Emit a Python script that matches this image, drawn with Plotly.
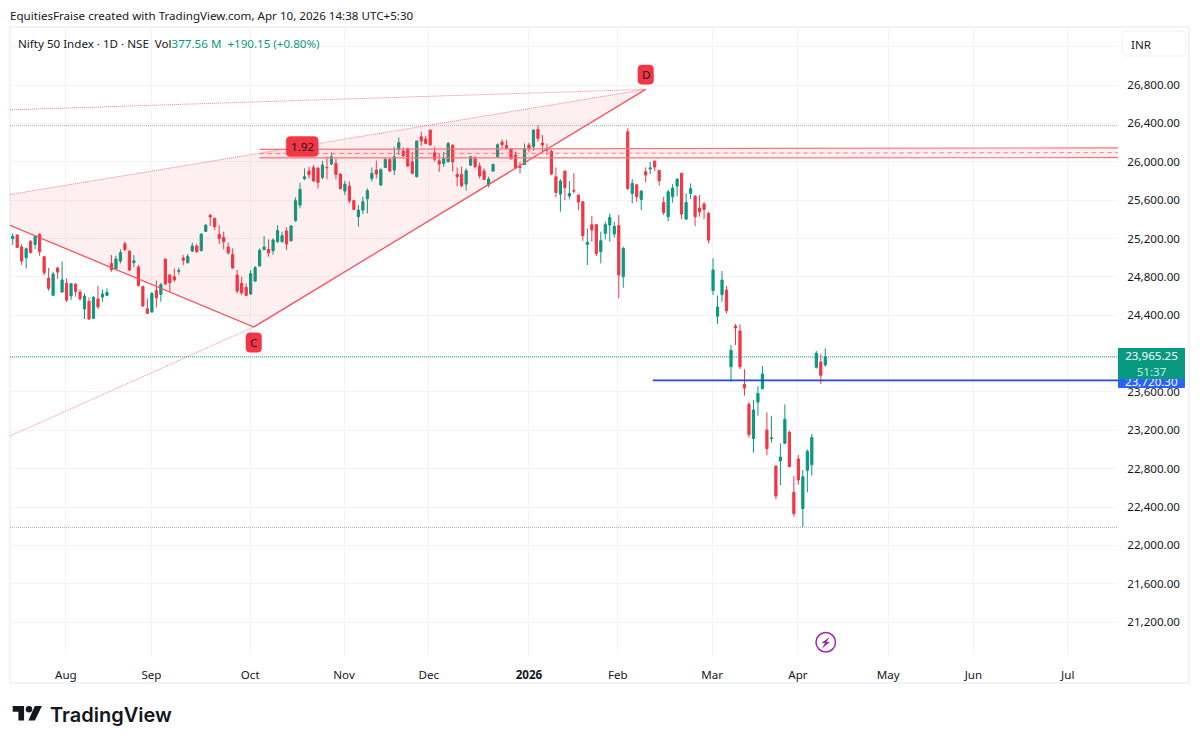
import plotly.graph_objects as go

opens = [25198,25236,25111,24999,25170,25138,25243,25010,24787,24607,24892,24641,24732,24600,24725,24641,24464,24544,24367,24568,24589,24607,
24940,24888,24965,25145,25069,24947,24902,24700,24468,24433,24659,24617,24986,24819,24801,24857,24996,24947,25069,25121,25072,25274,25441,25410,25243,25211,25111,25034,24819,24732,24690,24621,24756,24913,25083,25086,25072,25166,
25167,25278,25177,25385,25548,25823,25903,25938,25931,25837,25941,25976,25983,25872,25694,25746,25594,25427,25496,25614,25826,25913,25757,25941,26025,25913,26129,26111,26136,26000,25844,26261,26237,26330,26094,26011,25983,26000,26171,25868,25868,25767,25965,26035,25955,25903,25757,25903,26052,26205,26171,26132,26070,25948,25972,26174,26157,26337,26195,26139,
26108,25844,25663,25903,25642,25701,25653,25583,25138,25343,25343,25062,25253,25340,25246,25336,24801,26313,25670,25760,25607,25896,25924,26004,25910,25576,25427,25635,25746,25879,25402,25670,25642,25517,25559,25461,
24656,24388,24614,24663,23863,24287,24235,23679,23471,23113,23495,23634,23203,23113,22828,22880,23064,23179,22553,22901,22383,22782,22841,23856,23912,23881]
highs = [25253,25243,25142,25107,25184,25236,25253,25017,24892,24853,24906,24961,24784,24732,24732,24669,24627,24586,24600,24704,24669,24680,
25027,25020,25086,25163,25072,25027,24923,24707,24575,24641,24760,24739,24986,24829,24888,24895,25027,25038,25156,25142,25253,25350,25455,25420,25337,25271,25156,25097,24871,24801,24732,24871,24913,25097,25225,25191,25201,25340,
25271,25316,25340,25628,25781,25931,25948,25965,25948,26011,26052,26098,26035,25879,25802,25795,25600,25548,25635,25722,25941,26011,25931,26035,26035,26157,26254,26150,26146,26104,26219,26313,26268,26330,26157,26087,26104,26205,26184,25941,25948,25931,26059,26059,25990,25931,25844,25983,26191,26233,26226,26139,26104,26000,26191,26198,26337,26379,26278,26191,
26129,25941,25819,25903,25799,25879,25653,25590,25305,25434,25350,25270,25375,25461,25375,25444,25114,26348,25819,25767,25705,25941,26000,26018,25913,25635,25705,25767,25826,25886,25670,25774,25649,25653,25580,25479,
24993,24604,24861,24705,24089,24308,24305,23836,23495,23516,23662,23870,23387,23352,22828,23064,23471,23196,22723,22942,22786,23001,23161,24027,23995,24055]
lows = [25132,25100,24923,24888,25041,25090,25020,24815,24655,24607,24780,24634,24537,24558,24593,24551,24360,24349,24360,24464,24541,24600,
24853,24881,24940,25072,24860,24899,24697,24488,24412,24426,24481,24541,24714,24641,24749,24822,24923,24940,25058,25052,25069,25271,25330,25288,25142,25086,25031,24885,24627,24610,24600,24614,24749,24906,25079,25010,25031,25156,
25156,25080,25167,25375,25514,25809,25826,25792,25722,25816,25816,25965,25816,25712,25653,25566,25496,25322,25454,25461,25792,25826,25746,25938,25892,25861,26070,26035,25948,25872,25837,26164,26181,26171,26000,25896,25948,25993,25896,25746,25733,25698,25955,25931,25826,25809,25733,25896,26045,26139,26129,26018,25920,25879,25965,26104,26115,26209,26104,26070,
25861,25628,25479,25600,25607,25670,25496,25176,24923,25166,25017,24940,25190,25166,25208,24575,24686,25705,25566,25583,25496,25785,25872,25903,25753,25444,25381,25573,25642,25399,25392,25611,25329,25427,25402,25149,
24611,24308,24541,24420,23707,24089,23839,23561,23123,22967,23352,23627,22939,23071,22480,22629,23057,22814,22299,22633,22188,22553,22727,23843,23683,23863]
closes = [25222,25107,24965,25093,25055,25222,25062,24843,24680,24829,24850,24767,24558,24728,24648,24572,24600,24360,24586,24488,24621,24638,
24874,24986,25052,25083,24871,24968,24711,24495,24419,24627,24582,24718,24725,24739,24767,24864,24972,25013,25121,25062,25246,25337,25423,25323,25198,25166,25052,24892,24652,24634,24607,24833,24895,25076,25111,25048,25184,25284,
25229,25142,25330,25594,25712,25844,25865,25799,25785,25965,25938,26052,25868,25719,25767,25594,25503,25496,25583,25698,25879,25872,25917,26025,25903,26052,26198,26063,25955,25879,26216,26216,26191,26174,26025,25976,26035,26191,26000,25844,25750,25906,26052,25948,25854,25816,25819,25972,26177,26177,26136,26035,25938,25941,26136,26139,26330,26244,26174,26122,
25872,25680,25799,25729,25670,25694,25580,25229,25159,25288,25044,25176,25343,25420,25326,24818,25096,25722,25774,25635,25694,25861,25934,25945,25802,25472,25687,25726,25819,25454,25576,25719,25427,25479,25503,25183,
24871,24486,24767,24447,24034,24267,23863,23641,23154,23412,23585,23787,23008,23120,22515,22921,23314,22821,22330,22682,22716,22980,23126,24002,23773,23965.25]

month_labels = ["Aug", "Sep", "Oct", "Nov", "Dec", "<b>2026</b>", "Feb", "Mar", "Apr", "May", "Jun", "Jul"]
month_bars = [11.85, 30.9, 52.9, 73.8, 92.7, 115, 134.8, 155.8, 174.9, 195, 214, 235]
price_ticks = [21200, 21600, 22000, 22400, 22800, 23200, 23600, 24000, 24400, 24800, 25200, 25600, 26000, 26400, 26800]
price_grid_extra = [27200]

bar_left, bar_right = -0.6, 246.2
price_low, price_high = 20857, 27405

# pattern drawing anchors (bar index, price)
pt_left_solid = 25337
pt_c = (53.7, 24277)
pt_d = (141, 26755)
pt_left_top = 26541
pt_left_upper = 25658
pt_left_lower = 23140
level_upper_dotted = 26376
level_low_dotted = 22188
level_last = 23965.25
level_blue = 23720.30
blue_start = 142.6
band_start = 55
band_top = (26130, 26145)
band_mid = (26085, 26095)
band_bottom = (26040, 26042)

GREEN = "#089981"
RED = "#F23645"
TEXT = "#131722"
FONT = "Noto Sans"

# page layout helpers
PL, PR, PT, PB = 10, 1118, 27, 655
def fx(x): return (x - PL) / (PR - PL)
def fy(y): return (PB - y) / (PB - PT)

def rr_path(x0, y0, x1, y1, r):
    X0, X1, Y0, Y1 = fx(x0), fx(x1), fy(y0), fy(y1)
    rx, ry = r / (PR - PL), r / (PB - PT)
    return (f"M{X0+rx},{Y0} L{X1-rx},{Y0} Q{X1},{Y0} {X1},{Y0-ry} L{X1},{Y1+ry} Q{X1},{Y1} {X1-rx},{Y1} "
            f"L{X0+rx},{Y1} Q{X0},{Y1} {X0},{Y1+ry} L{X0},{Y0-ry} Q{X0},{Y0} {X0+rx},{Y0} Z")

def poly_path(points):
    return "M" + " L".join(f"{fx(x)},{fy(y)}" for x, y in points) + " Z"

def tag_shape(xv, yv, hw, hh, r=4):
    p = (f"M{-hw+r},{-hh} L{hw-r},{-hh} Q{hw},{-hh} {hw},{-hh+r} L{hw},{hh-r} Q{hw},{hh} {hw-r},{hh} "
         f"L{-hw+r},{hh} Q{-hw},{hh} {-hw},{hh-r} L{-hw},{-hh+r} Q{-hw},{-hh} {-hw+r},{-hh} Z")
    return dict(type="path", xref="x", yref="y", xsizemode="pixel", ysizemode="pixel",
                xanchor=xv, yanchor=yv, path=p, fillcolor=RED,
                line=dict(color="rgba(242,54,69,0.45)", width=1), layer="above")

fig = go.Figure()
DOT = "rgba(242,54,69,0.62)"
# triangle fill
fig.add_trace(go.Scatter(x=[bar_left, pt_d[0], pt_c[0], bar_left], y=[pt_left_upper, pt_d[1], pt_c[1], pt_left_solid],
                         fill="toself", fillcolor="rgba(242,54,69,0.08)", mode="none", hoverinfo="skip"))
# band fill
fig.add_trace(go.Scatter(x=[band_start, bar_right, bar_right, band_start],
                         y=[band_top[0], band_top[1], band_bottom[1], band_bottom[0]],
                         fill="toself", fillcolor="rgba(242,54,69,0.08)", mode="none", hoverinfo="skip"))
for yy, col in [(level_upper_dotted, "#A8ABB4"), (level_low_dotted, "#A8ABB4"), (level_last, GREEN)]:
    fig.add_trace(go.Scatter(x=[bar_left, bar_right], y=[yy, yy], mode="lines", hoverinfo="skip",
                             line=dict(color=col, width=1, dash="1px,1px")))
for xs, ys in [([bar_left, pt_d[0]], [pt_left_top, pt_d[1]]),
               ([bar_left, pt_d[0]], [pt_left_upper, pt_d[1]]),
               ([bar_left, pt_c[0]], [pt_left_lower, pt_c[1]])]:
    fig.add_trace(go.Scatter(x=xs, y=ys, mode="lines", hoverinfo="skip",
                             line=dict(color=DOT, width=1, dash="1px,1px")))

fig.add_trace(go.Candlestick(
    x=list(range(len(opens))), open=opens, high=highs, low=lows, close=closes,
    increasing=dict(line=dict(color=GREEN, width=1), fillcolor=GREEN),
    decreasing=dict(line=dict(color=RED, width=1), fillcolor=RED),
    whiskerwidth=0, hoverinfo="skip"))

fig.add_trace(go.Scatter(x=[bar_left, pt_c[0], pt_d[0]], y=[pt_left_solid, pt_c[1], pt_d[1]], mode="lines",
                         hoverinfo="skip", line=dict(color="#F7525F", width=1.3)))
for seg, w, d in [(band_top, 1.2, "solid"), (band_bottom, 1.2, "solid"), (band_mid, 1, "4px,4px")]:
    fig.add_trace(go.Scatter(x=[band_start, bar_right], y=list(seg), mode="lines", hoverinfo="skip",
                             line=dict(color="#F7747D", width=w, dash=d)))
fig.add_trace(go.Scatter(x=[blue_start, bar_right], y=[level_blue, level_blue], mode="lines", hoverinfo="skip",
                         line=dict(color="#1E4BD8", width=1.6)))

shapes = [
    dict(type="rect", xref="paper", yref="paper", x0=fx(10), x1=fx(1189), y0=fy(27), y1=fy(683),
         line=dict(color="#EEF0F3", width=1.5), layer="below"),
    dict(type="path", xref="paper", yref="paper", path=rr_path(1122, 31, 1186, 56, 5),
         line=dict(color="#EEF0F3", width=1), fillcolor="white"),
    dict(type="path", xref="paper", yref="paper", path=rr_path(1118, 375, 1185, 388, 1),
         line=dict(width=0), fillcolor="#2962FF"),
    tag_shape(pt_d[0], 26908, 7.8, 9.7),
    tag_shape(pt_c[0], 24115, 7.8, 9.7),
    tag_shape(64.5, 26159, 16, 10),
    # session icon
    dict(type="circle", xref="paper", yref="paper", x0=fx(816), x1=fx(835.5), y0=fy(632.5), y1=fy(652),
         line=dict(color="#9C27B0", width=1.5), fillcolor="white"),
    dict(type="path", xref="paper", yref="paper", fillcolor="#9C27B0", line=dict(width=0),
         path=poly_path([(829.5, 637), (821.5, 643), (825, 643), (822, 648.5), (830, 642), (826.5, 642)])),
    # TradingView mark
    dict(type="path", xref="paper", yref="paper", fillcolor=TEXT, line=dict(width=0),
         path=poly_path([(12.7, 706), (24.1, 706), (24.1, 720.6), (18.4, 720.6), (18.4, 711.7), (12.7, 711.7)])),
    dict(type="circle", xref="paper", yref="paper", fillcolor=TEXT, line=dict(width=0),
         x0=fx(25.7), x1=fx(32.2), y0=fy(706), y1=fy(712.5)),
    dict(type="path", xref="paper", yref="paper", fillcolor=TEXT, line=dict(width=0),
         path=poly_path([(34.8, 706), (41.9, 706), (34.9, 720.6), (28.4, 720.6)])),
]

SIZE = 11.6
def note(x, y, text, size=SIZE, color=TEXT, anchor="left", **kw):
    return dict(xref="paper", yref="paper", x=fx(x), y=fy(y), text=text, showarrow=False,
                xanchor=anchor, yanchor="middle", font=dict(family=FONT, size=size, color=color), **kw)

annotations = [
    note(8, 15, "EquitiesFraise created with TradingView.com, Apr 10, 2026 14:38 UTC+5:30"),
    note(16, 43, f"Nifty 50 Index · 1D · NSE  Vol<span style='color:{GREEN}'>377.56 M  +190.15 (+0.80%)</span>"),
    note(1129, 44, "INR"),
    dict(x=pt_d[0], y=26908, xref="x", yref="y", text="D", showarrow=False, font=dict(family=FONT, size=SIZE, color=TEXT)),
    dict(x=pt_c[0], y=24115, xref="x", yref="y", text="C", showarrow=False, font=dict(family=FONT, size=SIZE, color=TEXT)),
    dict(x=64.5, y=26159, xref="x", yref="y", text="1.92", showarrow=False, font=dict(family=FONT, size=SIZE, color=TEXT)),
    note(1151.5, 381.5, "23,720.30", color="white", anchor="center"),
    note(1151.5, 364, f"23,965.25<br><span style='color:#c9ece4'>51:37</span>", color="white", anchor="center",
         bgcolor=GREEN, width=65, height=29, align="center", borderpad=0, borderwidth=1, bordercolor=GREEN),
    dict(xref="paper", yref="paper", x=fx(48), y=fy(714.5), text="TradingView", showarrow=False, xanchor="left",
         yanchor="middle", font=dict(family="Inter", size=20, color=TEXT, weight=600)),
]

fig.update_layout(
    width=1200, height=744, margin=dict(l=PL, r=1200 - PR, t=PT, b=744 - PB),
    paper_bgcolor="white", plot_bgcolor="white", showlegend=False, hovermode=False,
    font=dict(family=FONT, size=SIZE, color=TEXT),
    shapes=shapes, annotations=annotations,
    xaxis=dict(range=[bar_left, bar_right], tickmode="array", tickvals=month_bars, ticktext=month_labels,
               showgrid=True, gridcolor="#F3F3F4", gridwidth=1, zeroline=False, showline=False,
               rangeslider=dict(visible=False), ticks="outside", ticklen=9, tickcolor="rgba(0,0,0,0)",
               tickfont=dict(family=FONT, size=SIZE, color=TEXT)),
    yaxis=dict(range=[price_low, price_high], side="right", tickmode="array", tickvals=price_ticks + price_grid_extra,
               ticktext=[f"{v:,.2f}" for v in price_ticks] + [""],
               showgrid=True, gridcolor="#F3F3F4", gridwidth=1, zeroline=False, showline=False,
               ticks="outside", ticklen=6, tickcolor="rgba(0,0,0,0)",
               tickfont=dict(family=FONT, size=SIZE, color=TEXT)),
)

fig.write_html("out.html", config=dict(displayModeBar=False),
               post_script="document.body.style.margin='0';document.documentElement.style.overflow='hidden';")
